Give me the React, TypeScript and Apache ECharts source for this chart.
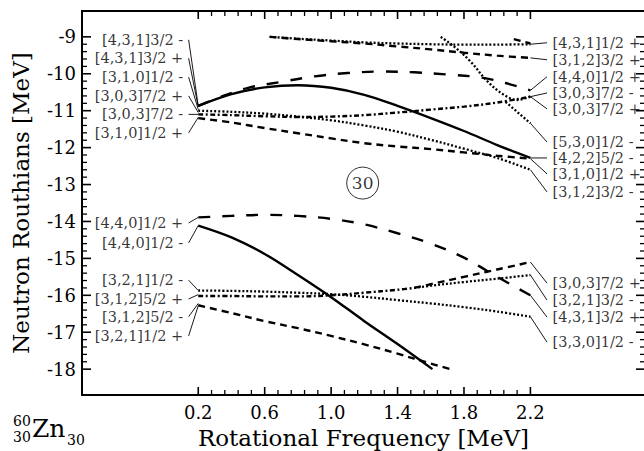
import React, { useEffect, useRef } from "react";
import * as echarts from "echarts";

const FONT = "'DejaVu Serif', serif";

// tick labels
const xMajor = [0.2, 0.6, 1.0, 1.4, 1.8, 2.2];
const yMajor = [-18, -17, -16, -15, -14, -13, -12, -11, -10, -9];

// upper group curves [frequency, routhian]
const solidUpper = [[0.2,-10.87],[0.4,-10.55],[0.6,-10.37],[0.8,-10.31],[1.0,-10.38],[1.2,-10.57],[1.4,-10.87],[1.6,-11.2],[1.8,-11.55],[2.0,-11.93],[2.2,-12.28]];
const longDashUpper = [[0.2,-10.87],[0.35,-10.6],[0.5,-10.38],[0.7,-10.22],[0.9,-10.07],[1.1,-9.98],[1.3,-9.94],[1.5,-9.96],[1.7,-10.02],[1.9,-10.1],[2.05,-10.25],[2.2,-10.45]];
const dottedUpper = [[0.2,-11.0],[0.4,-11.03],[0.6,-11.08],[0.8,-11.16],[1.0,-11.26],[1.2,-11.4],[1.4,-11.57],[1.6,-11.79],[1.8,-12.03],[2.0,-12.28],[2.2,-12.6]];
const dashDotUpper = [[0.2,-11.1],[0.4,-11.12],[0.6,-11.15],[0.8,-11.17],[1.0,-11.16],[1.2,-11.12],[1.4,-11.05],[1.6,-10.97],[1.8,-10.89],[2.0,-10.78],[2.2,-10.62]];
const dashedUpper = [[0.2,-11.2],[0.4,-11.32],[0.6,-11.47],[0.8,-11.61],[1.0,-11.75],[1.2,-11.88],[1.4,-11.97],[1.6,-12.04],[1.8,-12.13],[2.0,-12.22],[2.2,-12.3]];
const dottedTop = [[0.63,-9.0],[0.8,-9.05],[1.0,-9.1],[1.2,-9.15],[1.4,-9.18],[1.6,-9.2],[1.8,-9.21],[2.0,-9.21],[2.2,-9.2]];
const dashedTop = [[0.63,-9.0],[0.8,-9.06],[1.0,-9.12],[1.2,-9.18],[1.4,-9.26],[1.6,-9.34],[1.8,-9.43],[2.0,-9.51],[2.2,-9.57]];
const dashedTopPiece = [[2.1,-9.06],[2.2,-9.18]];
const dottedSteep = [[1.66,-9.0],[1.74,-9.26],[1.84,-9.67],[1.94,-10.2],[2.04,-10.57],[2.12,-10.71],[2.2,-10.62]];
const dottedBranch = [[2.05,-10.76],[2.2,-11.34]];

// lower group curves
const longDashLower = [[0.2,-13.89],[0.4,-13.85],[0.6,-13.82],[0.8,-13.85],[1.0,-13.93],[1.2,-14.08],[1.4,-14.32],[1.6,-14.6],[1.8,-14.98],[2.0,-15.5],[2.2,-16.0]];
const solidLower = [[0.2,-14.11],[0.4,-14.43],[0.6,-14.88],[0.8,-15.45],[1.0,-16.05],[1.2,-16.7],[1.4,-17.32],[1.61,-18.0]];
const dashedLower = [[0.2,-16.27],[0.4,-16.48],[0.6,-16.7],[0.8,-16.89],[1.0,-17.1],[1.2,-17.33],[1.4,-17.58],[1.6,-17.85],[1.72,-18.0]];
const dottedLower = [[0.2,-15.87],[0.4,-15.88],[0.6,-15.9],[0.8,-15.93],[1.0,-15.97],[1.2,-16.04],[1.4,-16.13],[1.6,-16.22],[1.8,-16.32],[2.0,-16.44],[2.2,-16.58]];
const dashDotLower = [[0.2,-16.02],[0.4,-16.02],[0.6,-16.03],[0.8,-16.03],[1.0,-16.0],[1.2,-15.93],[1.4,-15.85],[1.5,-15.8]];
const dottedLowerEnd = [[1.5,-15.8],[1.6,-15.74],[1.8,-15.64],[2.0,-15.55],[2.2,-15.45]];
const dashedLowerEnd = [[1.5,-15.8],[1.6,-15.7],[1.8,-15.5],[2.0,-15.3],[2.2,-15.1]];

// level labels
const leftLabels = ["[4,3,1]3/2 -","[4,3,1]3/2 +","[3,1,0]1/2 -","[3,0,3]7/2 +","[3,0,3]7/2 -","[3,1,0]1/2 +","[4,4,0]1/2 +","[4,4,0]1/2 -","[3,2,1]1/2 -","[3,1,2]5/2 +","[3,1,2]5/2 -","[3,2,1]1/2 +"];
const leftLabelY = [-9.08,-9.58,-10.09,-10.6,-11.1,-11.6,-14.04,-14.58,-15.59,-16.1,-16.58,-17.1];
const leftTargetY = [-10.87,-10.9,-10.97,-11.05,-11.1,-11.18,-13.89,-14.11,-15.87,-15.98,-16.22,-16.28];
const rightLabels = ["[4,3,1]1/2 +","[3,1,2]3/2 +","[4,4,0]1/2 +","[3,0,3]7/2 -","[3,0,3]7/2 +","[5,3,0]1/2 -","[4,2,2]5/2 -","[3,1,0]1/2 +","[3,1,2]3/2 -","[3,0,3]7/2 +","[3,2,1]3/2 -","[4,3,1]3/2 +","[3,3,0]1/2 -"];
const rightLabelY = [-9.16,-9.62,-10.08,-10.52,-10.95,-11.85,-12.28,-12.71,-13.2,-15.67,-16.13,-16.59,-17.27];
const rightTargetY = [-9.2,-9.57,-10.45,-10.62,-10.62,-11.34,-12.28,-12.3,-12.6,-15.1,-15.45,-16.0,-16.58];

const LEFT_X0 = 0.142, LEFT_X1 = 0.2, RIGHT_X0 = 2.2, RIGHT_X1 = 2.3;
const circled = { x: 1.19, y: -12.96, text: "30" };

const X_MIN = -0.5, X_MAX = 2.89, Y_MIN = -18.7, Y_MAX = -8.3;

const STYLES: Record<string, any> = {
  solid: { type: "solid", width: 2.4 },
  longDash: { type: [12, 12], width: 2.4 },
  dash: { type: [7, 5], width: 2.4 },
  dot: { type: [2, 2], width: 2.3 },
  dashDot: { type: [5, 2.5, 2, 2.5], width: 2.4 },
};

function subdivide(major: number[], n: number) {
  const out: number[] = [];
  for (let i = 0; i < major.length - 1; i++) {
    const step = (major[i + 1] - major[i]) / n;
    for (let k = 1; k < n; k++) out.push(+(major[i] + k * step).toFixed(4));
  }
  return out;
}

export default function App() {
  const ref = useRef<HTMLDivElement>(null);
  useEffect(() => {
    if (!ref.current) return;
    const chart = echarts.init(ref.current, undefined, { renderer: "svg" });
    const xMinor = subdivide(xMajor, 5);
    const yMinor = subdivide(yMajor, 5);
    const curve = (data: number[][], style: string, smooth = true) => ({
      type: "line", data, showSymbol: false, symbol: "none", smooth: smooth ? 0.35 : false,
      lineStyle: { color: "#000", cap: "butt", ...STYLES[style] }, z: 3, silent: true,
    });
    const leader = (a: number[], b: number[]) => ({
      type: "line", data: [a, b], showSymbol: false, symbol: "none",
      lineStyle: { color: "#000", width: 0.9 }, z: 2, silent: true,
    });
    // tick marks: [value, side(0 left,1 right,2 bottom,3 top), length]
    const tickData: number[][] = [
      ...yMajor.map((v) => [v, 0, 9]), ...yMinor.map((v) => [v, 0, 5]),
      ...yMajor.map((v) => [v, 1, 9]), ...yMinor.map((v) => [v, 1, 5]),
      ...xMajor.map((v) => [v, 2, 8]), ...xMinor.map((v) => [v, 2, 5]),
      ...xMajor.map((v) => [v, 3, 8]), ...xMinor.map((v) => [v, 3, 5]),
    ].map(([v, s, l]) => (s < 2 ? [X_MIN, v, s, l] : [v, Y_MIN, s, l]));
    const series: any[] = [
      curve(solidUpper, "solid"), curve(longDashUpper, "longDash"), curve(dottedUpper, "dot"),
      curve(dashDotUpper, "dashDot"), curve(dashedUpper, "dash"), curve(dottedTop, "dot"),
      curve(dashedTop, "dash"), curve(dashedTopPiece, "dash", false), curve(dottedSteep, "dot"),
      curve(dottedBranch, "dot", false),
      curve(longDashLower, "longDash"), curve(solidLower, "solid"), curve(dashedLower, "dash"),
      curve(dottedLower, "dot"), curve(dashDotLower, "dashDot"), curve(dottedLowerEnd, "dot"),
      curve(dashedLowerEnd, "dash"),
      {
        type: "custom", data: tickData, encode: { x: 0, y: 1 }, clip: false, silent: true, z: 6,
        renderItem: (params: any, api: any) => {
          const cs = params.coordSys;
          const p = api.coord([api.value(0), api.value(1)]);
          const side = api.value(2), len = api.value(3);
          let shape;
          if (side === 0) shape = { x1: cs.x, y1: p[1], x2: cs.x + len, y2: p[1] };
          else if (side === 1) shape = { x1: cs.x + cs.width, y1: p[1], x2: cs.x + cs.width - len, y2: p[1] };
          else if (side === 2) shape = { x1: p[0], y1: cs.y + cs.height, x2: p[0], y2: cs.y + cs.height - len };
          else shape = { x1: p[0], y1: cs.y, x2: p[0], y2: cs.y + len };
          return { type: "line", shape, style: { stroke: "#000", lineWidth: len > 6 ? 1.6 : 1.3 } };
        },
      },
    ];
    leftLabels.forEach((_, i) => series.push(leader([LEFT_X0, leftLabelY[i]], [LEFT_X1, leftTargetY[i]])));
    rightLabels.forEach((_, i) => series.push(leader([RIGHT_X0, rightTargetY[i]], [RIGHT_X1, rightLabelY[i]])));
    const labelSeries = (names: string[], ys: number[], x: number, pos: string) => ({
      type: "scatter", symbolSize: 1, itemStyle: { color: "rgba(0,0,0,0)" }, silent: true,
      data: names.map((n, i) => ({ name: n, value: [x, ys[i]] })),
      label: { show: true, position: pos, distance: 5, formatter: "{b}", fontFamily: FONT, fontSize: 14.5, color: "#000" },
    });
    series.push(labelSeries(leftLabels, leftLabelY, LEFT_X0, "left"));
    series.push(labelSeries(rightLabels, rightLabelY, RIGHT_X1, "right"));
    series.push({
      type: "scatter", symbolSize: 32, silent: true, z: 4,
      itemStyle: { color: "#fff", borderColor: "#000", borderWidth: 1 },
      data: [{ value: [circled.x, circled.y], name: circled.text }],
      label: { show: true, position: "inside", formatter: "{b}", fontFamily: FONT, fontSize: 17, color: "#000" },
    });

    chart.setOption({
      animation: false,
      textStyle: { fontFamily: FONT },
      grid: {
        left: 82, top: 11, width: 563, height: 384, containLabel: false, outerBoundsMode: "none",
        show: true, borderColor: "#000", borderWidth: 2, backgroundColor: "transparent",
      },
      xAxis: {
        type: "value", min: X_MIN, max: X_MAX, position: "bottom",
        axisLine: { show: false, onZero: false }, splitLine: { show: false }, axisTick: { show: false },
        axisLabel: { show: true, customValues: xMajor, formatter: (v: number) => v.toFixed(1), fontSize: 18, color: "#000", margin: 8, fontFamily: FONT },
        name: "Rotational Frequency [MeV]", nameLocation: "middle", nameGap: 31,
        nameTextStyle: { fontSize: 23, color: "#000", fontFamily: FONT },
      },
      yAxis: {
        type: "value", min: Y_MIN, max: Y_MAX, position: "left",
        axisLine: { show: false, onZero: false }, splitLine: { show: false }, axisTick: { show: false },
        axisLabel: { show: true, customValues: yMajor, formatter: (v: number) => String(v), fontSize: 18, color: "#000", margin: 6, fontFamily: FONT },
        name: "Neutron Routhians [MeV]", nameLocation: "middle", nameGap: 50, nameRotate: 90,
        nameTextStyle: { fontSize: 23, color: "#000", fontFamily: FONT },
      },
      graphic: [
        { type: "text", left: 13, top: 414, style: { text: "60", fontSize: 14, fontFamily: FONT, fill: "#000" } },
        { type: "text", left: 13, top: 430, style: { text: "30", fontSize: 14, fontFamily: FONT, fill: "#000" } },
        { type: "text", left: 32, top: 416, style: { text: "Zn", fontSize: 25, fontFamily: FONT, fill: "#000" } },
        { type: "text", left: 67, top: 433, style: { text: "30", fontSize: 14, fontFamily: FONT, fill: "#000" } },
      ],
      series,
    });
    return () => chart.dispose();
  }, []);
  return <div ref={ref} style={{ position: "absolute", left: 0, top: 0, width: 644, height: 451 }} />;
}
